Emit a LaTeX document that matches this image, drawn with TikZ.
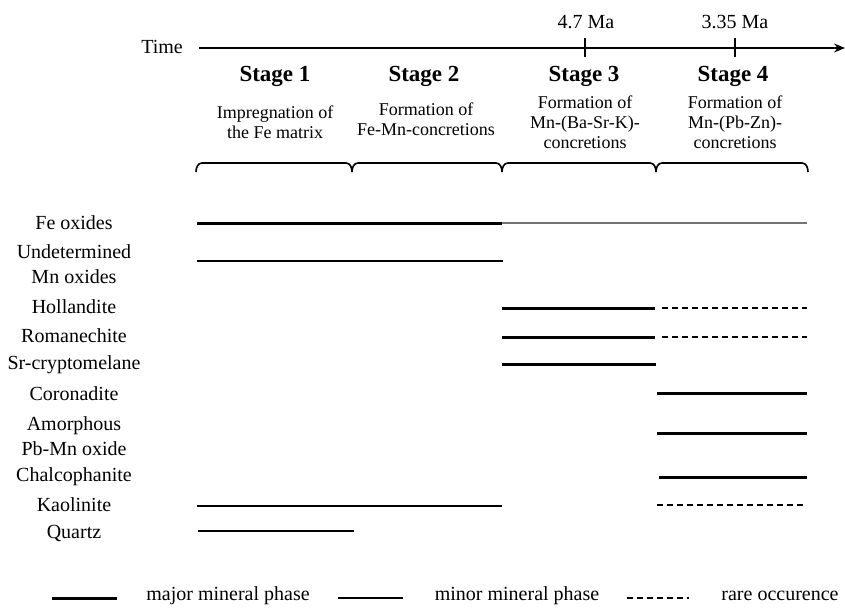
\documentclass[tikz,border=0pt]{standalone}
\usepackage{fontspec}
\setmainfont{Liberation Serif}
\usetikzlibrary{arrows.meta}
\begin{document}
\begin{tikzpicture}[x=1pt,y=-1pt,
  lbl/.style={font=\fontsize{20}{25}\selectfont, align=center, inner sep=0pt},
  stg/.style={font=\fontsize{23}{26}\selectfont\bfseries, inner sep=0pt},
  desc/.style={font=\fontsize{18}{20}\selectfont, align=center, inner sep=0pt},
  major/.style={line width=3pt},
  minor/.style={line width=1.4pt},
  faint/.style={line width=1.4pt, black!55},
  rare/.style={line width=1.3pt, dash pattern=on 6pt off 4pt},
  bracepath/.style={line width=1.6pt},
  axis/.style={line width=1.6pt, -{Stealth[length=11pt,width=9pt]}},
  tick/.style={line width=1.6pt}]
\useasboundingbox (0,0) rectangle (845,611);

% time axis
\node[lbl, anchor=east] (time) at (183,47) {Time};
\coordinate (a0) at (199,48);
\coordinate (a1) at (845,48);
\draw[axis] (a0) -- (a1);
\coordinate (k1t) at (585,38); \coordinate (k1b) at (585,57);
\coordinate (k2t) at (735,38); \coordinate (k2b) at (735,57);
\draw[tick] (k1t) -- (k1b);
\draw[tick] (k2t) -- (k2b);
\node[lbl] (m1) at (586,22) {4.7 Ma};
\node[lbl] (m2) at (735,22) {3.35 Ma};

% stages
\node[stg] (s1) at (275,76) {Stage 1};
\node[stg] (s2) at (424,76) {Stage 2};
\node[stg] (s3) at (584,76) {Stage 3};
\node[stg] (s4) at (733,76) {Stage 4};
\node[desc] (d1) at (275,122) {Impregnation of\\the Fe matrix};
\node[desc] (d2) at (426,119) {Formation of\\Fe-Mn-concretions};
\node[desc] (d3) at (585,122) {Formation of\\Mn-(Ba-Sr-K)-\\concretions};
\node[desc] (d4) at (735,122) {Formation of\\Mn-(Pb-Zn)-\\concretions};

% braces
\foreach \xa/\xb in {196/352, 352/502, 502/656, 656/808}{
  \draw[bracepath] (\xa,172) to[out=90,in=180] (\xa+6,163) -- (\xb-6,163) to[out=0,in=90] (\xb,172);
}

% row labels
\node[lbl] (r1) at (74,223) {Fe oxides};
\node[lbl] (r2) at (74,264) {Undetermined\\Mn oxides};
\node[lbl] (r3) at (74,307) {Hollandite};
\node[lbl] (r4) at (74,336) {Romanechite};
\node[lbl] (r5) at (74,365) {Sr-cryptomelane};
\node[lbl] (r6) at (74,394) {Coronadite};
\node[lbl] (r7) at (74,436) {Amorphous\\Pb-Mn oxide};
\node[lbl] (r8) at (74,477) {Chalcophanite};
\node[lbl] (r9) at (74,505) {Kaolinite};
\node[lbl] (r10) at (74,533) {Quartz};

% boundaries
\def\bA{197}\def\bB{353}\def\bC{502}\def\bD{657}\def\bE{808}

% Fe oxides
\coordinate (fe0) at (\bA,223); \coordinate (fe1) at (\bC,223); \coordinate (fe2) at (807,223);
\draw[faint] (fe1) -- (fe2);
\draw[major] (fe0) -- (fe1);
% Undetermined
\coordinate (un0) at (\bA,261); \coordinate (un1) at (503,261);
\draw[minor] (un0) -- (un1);
% Hollandite
\coordinate (ho0) at (\bC,308); \coordinate (ho1) at (655,308); \coordinate (ho2) at (662,308); \coordinate (ho3) at (807,308);
\draw[major] (ho0) -- (ho1);
\draw[rare] (ho2) -- (ho3);
% Romanechite
\coordinate (ro0) at (\bC,337); \coordinate (ro1) at (655,337); \coordinate (ro2) at (662,337); \coordinate (ro3) at (807,337);
\draw[major] (ro0) -- (ro1);
\draw[rare] (ro2) -- (ro3);
% Sr-cryptomelane
\coordinate (sr0) at (\bC,364); \coordinate (sr1) at (656,364);
\draw[major] (sr0) -- (sr1);
% Coronadite
\coordinate (co0) at (\bD,393); \coordinate (co1) at (807,393);
\draw[major] (co0) -- (co1);
% Amorphous
\coordinate (am0) at (\bD,433); \coordinate (am1) at (807,433);
\draw[major] (am0) -- (am1);
% Chalcophanite
\coordinate (ch0) at (659,477); \coordinate (ch1) at (807,477);
\draw[major] (ch0) -- (ch1);
% Kaolinite
\coordinate (ka0) at (\bA,506); \coordinate (ka1) at (\bC,506); \coordinate (ka2) at (\bD,505); \coordinate (ka3) at (803,505);
\draw[minor] (ka0) -- (ka1);
\draw[rare] (ka2) -- (ka3);
% Quartz
\coordinate (qz0) at (198,531); \coordinate (qz1) at (354,531);
\draw[minor] (qz0) -- (qz1);

% legend
\coordinate (l1a) at (52,598); \coordinate (l1b) at (117,598);
\draw[major] (l1a) -- (l1b);
\node[lbl] (lt1) at (228,596) {major mineral phase};
\coordinate (l2a) at (338,598); \coordinate (l2b) at (403,598);
\draw[minor] (l2a) -- (l2b);
\node[lbl] (lt2) at (517,596) {minor mineral phase};
\coordinate (l3a) at (627,598); \coordinate (l3b) at (689,598);
\draw[rare] (l3a) -- (l3b);
\node[lbl] (lt3) at (780,596) {rare occurence};
\end{tikzpicture}
\end{document}
